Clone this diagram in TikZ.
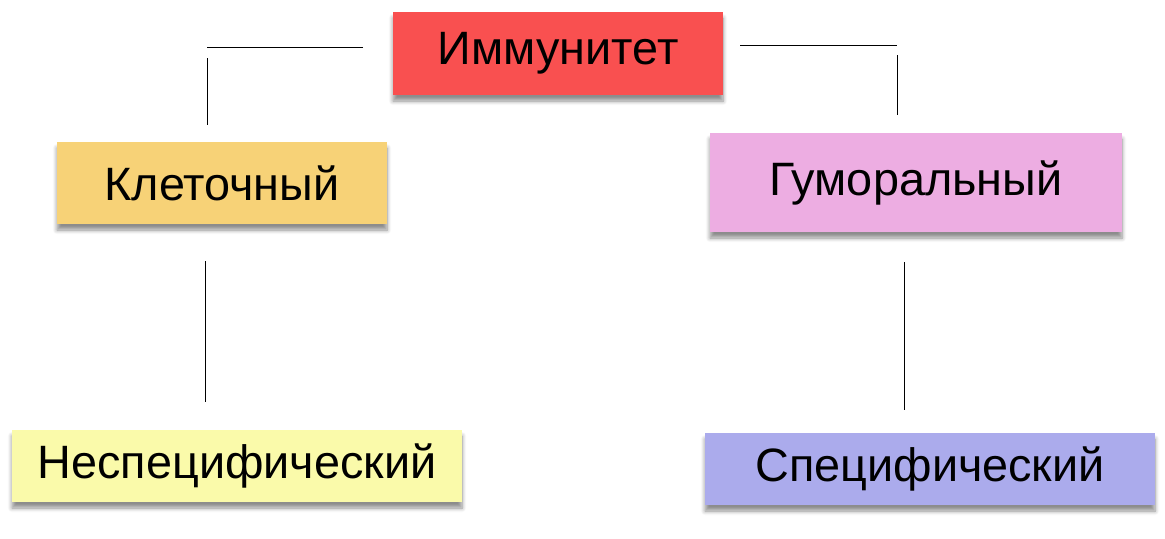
\documentclass[tikz,border=0pt]{standalone}
\usepackage{fontspec}
\setmainfont{Liberation Sans}
\usetikzlibrary{shadows.blur}
\definecolor{immred}{HTML}{F95050}
\definecolor{cellorange}{HTML}{F7D277}
\definecolor{humpink}{HTML}{EDADE2}
\definecolor{nonyellow}{HTML}{FAFAAA}
\definecolor{speclav}{HTML}{ABABEC}
\tikzset{
  box/.style = {rectangle,inner sep=0pt,font=\fontsize{23.4}{28}\selectfont,
    blur shadow={shadow xshift=0pt,shadow yshift=-3pt,shadow blur steps=6,shadow opacity=45}},
  link/.style = {draw=black,line width=0.5pt}
}
\begin{document}
\begin{tikzpicture}[x=0.5pt,y=-0.5pt]
  \useasboundingbox (0,0) rectangle (1165,538);
  % boxes
  \node[box,fill=immred,minimum width=165pt,minimum height=41.5pt] (immun) at (558,53.5) {Иммунитет};
  \node[box,fill=cellorange,minimum width=165pt,minimum height=41pt] (cell) at (222,183) {Клеточный};
  \node[box,fill=humpink,minimum width=206pt,minimum height=49.5pt] (humor) at (916,182.5) {Гуморальный};
  \node[box,fill=nonyellow,minimum width=225pt,minimum height=36pt] (nonspec) at (237,466) {Неспецифический};
  \node[box,fill=speclav,minimum width=225pt,minimum height=36pt] (spec) at (930,469) {Специфический};

  % line ends
  \coordinate (tl1) at (363,47);
  \coordinate (tl2) at (207,47);
  \coordinate (tl3) at (207,58);
  \coordinate (tl4) at (207,125);
  \coordinate (tr1) at (740,45);
  \coordinate (tr2) at (897,45);
  \coordinate (tr3) at (897,55);
  \coordinate (tr4) at (897,115);
  \coordinate (bl1) at (205,261);
  \coordinate (bl2) at (205,402);
  \coordinate (br1) at (904,262);
  \coordinate (br2) at (904,410);

  \draw[link] (tl1) -- (tl2);
  \draw[link] (tl3) -- (tl4);
  \draw[link] (tr1) -- (tr2);
  \draw[link] (tr3) -- (tr4);
  \draw[link] (bl1) -- (bl2);
  \draw[link] (br1) -- (br2);
\end{tikzpicture}
\end{document}
